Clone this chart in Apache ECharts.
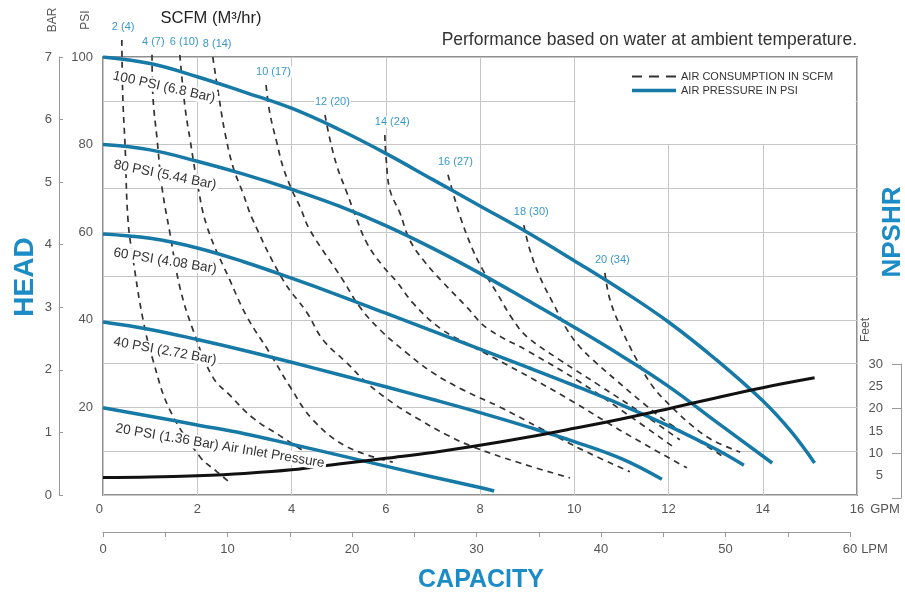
<!DOCTYPE html>
<html>
<head>
<meta charset="utf-8">
<title>Pump performance curve</title>
<script src="https://cdn.jsdelivr.net/npm/echarts@6.0.0/dist/echarts.min.js"></script>
<style>
  html, body { margin: 0; padding: 0; background: #fff; }
  #chart { width: 905px; height: 596px; }
</style>
</head>
<body>
<div id="chart"></div>
<script>
// air pressure curves, points are [GPM, PSI]
var psi100 = [[0, 100], [1, 98.5], [2, 95.5], [3, 92], [4, 88.3], [5, 83.5], [6, 78], [7, 72], [8, 66], [9, 60], [10, 53.5], [11, 46.8], [12, 39.5], [13, 31], [14, 21.5], [14.6, 14.5], [15.1, 7.3]];
var psi80 = [[0, 80], [1, 78.8], [2, 76.2], [3, 73.2], [4, 69.8], [5, 66], [6, 61.5], [7, 56.3], [8, 50.6], [9, 44.5], [10, 38.3], [11, 31.8], [12, 24.8], [13, 16.8], [14.2, 7.3]];
var psi60 = [[0, 59.6], [1, 58.6], [2, 56.4], [3, 53.2], [4, 49.5], [5, 45.6], [6, 41.5], [7, 37.4], [8, 33.3], [9, 29.2], [10, 25], [11, 20.6], [12, 15.8], [13, 10.5], [13.6, 6.8]];
var psi40 = [[0, 39.5], [1, 37.8], [2, 35.5], [3, 33], [4, 30.3], [5, 27.5], [6, 24.7], [7, 21.8], [8, 18.8], [9, 15.6], [10, 12.2], [11, 8.3], [11.86, 3.6]];
var psi20 = [[0, 19.9], [1, 18], [2, 16], [3, 14], [4, 11.6], [5, 9.1], [6, 6.6], [7, 4.1], [8, 1.7], [8.3, 0.9]];

// air consumption curves (SCFM), [GPM, PSI]
var air2 = [[0.40, 103.9], [0.42, 90.9], [0.47, 79.4], [0.53, 62.8], [0.64, 53.7], [0.85, 40.0], [1.06, 30.8], [1.42, 19.4], [2.06, 8.7], [2.42, 5.3], [2.65, 3.2]];
var air4 = [[1.04, 100.5], [1.06, 90.9], [1.15, 81.0], [1.25, 70.3], [1.42, 59.8], [1.63, 47.5], [1.91, 37.7], [2.33, 26.9], [2.69, 22.8], [3.18, 17.6], [3.76, 13.5], [4.29, 9.8]];
var air6 = [[1.63, 100.5], [1.74, 88.6], [1.85, 81.0], [1.99, 71.9], [2.21, 61.2], [2.69, 49.1], [3.06, 40.6], [3.54, 32.4], [3.97, 24.7], [4.46, 17.1], [5.18, 11.0], [6.15, 7.5]];
var air8 = [[2.33, 100], [2.48, 89.5], [2.59, 82.6], [2.76, 74.9], [2.97, 68.9], [3.18, 62.8], [3.82, 49.1], [4.33, 41.6], [4.67, 35.4], [5.18, 30.1], [5.60, 25.6], [6.15, 21.0], [6.73, 17.1], [7.30, 13.7], [7.85, 11.0], [8.85, 7.3], [9.91, 3.9]];
var air10 = [[3.46, 93.6], [3.54, 87.2], [3.69, 80.4], [3.82, 74.9], [4.01, 69.6], [4.18, 65.8], [4.39, 60.5], [5.09, 49.1], [5.45, 42.9], [5.88, 37.7], [6.45, 32.4], [7.00, 27.9], [7.64, 24.0], [8.42, 20.1], [9.27, 15.3], [10.23, 10.0], [11.18, 5.3]];
var air12 = [[4.71, 86.8], [4.82, 81.0], [4.97, 74.9], [5.18, 68.9], [5.39, 62.8], [5.60, 57.5], [5.92, 52.5], [6.24, 48.6], [6.58, 43.8], [7.15, 38.1], [7.79, 34.2], [8.85, 28.1], [9.91, 21.7], [10.97, 14.8], [12.39, 6.2]];
var air14 = [[5.98, 82.2], [6.01, 76.5], [6.09, 69.6], [6.30, 64.4], [6.51, 58.2], [6.83, 53.2], [7.21, 48.6], [7.72, 42.9], [8.15, 38.1], [9.06, 32.6], [10.12, 25.8], [11.18, 18.0], [12.14, 10.7]];
var air16 = [[7.32, 73.1], [7.43, 68.9], [7.58, 63.5], [7.85, 55.9], [8.06, 51.4], [8.36, 46.1], [8.70, 40.0], [9.00, 36.1], [9.70, 30.8], [10.55, 24.9], [11.40, 18.9], [12.24, 12.6]];
var air18 = [[8.93, 61.6], [9.06, 55.9], [9.27, 49.8], [9.55, 43.8], [9.85, 37.7], [10.12, 33.8], [10.40, 30.8], [10.91, 26.0], [11.46, 21.0], [12.03, 16.2], [12.67, 12.1], [13.14, 8.9]];
var air20 = [[10.65, 50.7], [10.76, 44.5], [11.01, 37.7], [11.33, 30.8], [11.67, 24.7], [12.03, 20.5], [12.46, 16.2], [12.92, 12.6], [13.52, 9.8]];

// NPSHR curve, [GPM, feet]
var npshr = [[0, 4.6], [1, 4.7], [2, 5.0], [3, 5.5], [4, 6.3], [5, 7.6], [6, 8.9], [7, 10.2], [8, 11.8], [9, 13.6], [10, 15.6], [11, 17.7], [12, 20.0], [13, 22.4], [14, 24.7], [15.1, 26.9]];

var pressureCurves = [psi100, psi80, psi60, psi40, psi20];
var airCurves = [air2, air4, air6, air8, air10, air12, air14, air16, air18, air20];
var scfmLabels = ['2 (4)', '4 (7)', '6 (10)', '8 (14)', '10 (17)', '12 (20)', '14 (24)', '16 (27)', '18 (30)', '20 (34)'];
var pressureLabels = ['100 PSI (6.8 Bar)', '80 PSI (5.44 Bar)', '60 PSI (4.08 Bar)', '40 PSI (2.72 Bar)', '20 PSI (1.36 Bar) Air Inlet Pressure'];

var FONT = '"Liberation Sans", Arial, Helvetica, sans-serif';
var BLUE = '#1679a6';
var BIG_BLUE = '#1c8cc6';
var LABEL_BLUE = '#3b98c9';
var GRAY = '#555';

var chartDom = document.getElementById('chart');
var myChart = echarts.init(chartDom);
var option;

var series = [];
airCurves.forEach(function (pts) {
  series.push({
    name: 'AIR CONSUMPTION IN SCFM',
    type: 'line',
    xAxisIndex: 0,
    yAxisIndex: 0,
    data: pts,
    smooth: 0.4,
    showSymbol: false,
    symbol: 'none',
    clip: false,
    silent: true,
    z: 2,
    itemStyle: { color: '#333' },
    lineStyle: { color: '#333', width: 1.7, type: [6, 5] }
  });
});
pressureCurves.forEach(function (pts, i) {
  var s = {
    name: 'AIR PRESSURE IN PSI',
    type: 'line',
    xAxisIndex: 0,
    yAxisIndex: 0,
    data: pts,
    smooth: 0.4,
    showSymbol: false,
    symbol: 'none',
    silent: true,
    z: 3,
    itemStyle: { color: BLUE },
    lineStyle: { color: BLUE, width: 3.5 }
  };
  if (i === 0) {
    // blank box behind the legend
    s.markArea = {
      silent: true,
      itemStyle: { color: '#fff' },
      data: [[{ coord: [10.03, 80.15] }, { coord: [15.97, 99.8] }]]
    };
  }
  series.push(s);
});
series.push({
  name: 'NPSHR',
  type: 'line',
  xAxisIndex: 1,
  yAxisIndex: 2,
  data: npshr,
  smooth: 0.4,
  showSymbol: false,
  symbol: 'none',
  silent: true,
  z: 4,
  itemStyle: { color: '#111' },
  lineStyle: { color: '#111', width: 3 }
});

option = {
  animation: false,
  backgroundColor: '#fff',
  textStyle: { fontFamily: FONT },
  grid: [
    { left: 103, right: 48, top: 57, bottom: 101, show: true, borderColor: '#8f8f8f', borderWidth: 2, backgroundColor: 'transparent' },
    { left: 103, right: 48, top: 364, bottom: 98 },
    { left: 103, width: 747, top: 531, height: 1 },
    { left: 103, right: 48, top: 364, bottom: 98 }
  ],
  legend: {
    left: 627,
    top: 66,
    orient: 'vertical',
    itemWidth: 44,
    itemHeight: 3.5,
    itemGap: 3,
    selectedMode: false,
    textStyle: { fontSize: 11, color: '#333', fontFamily: FONT },
    data: [
      { name: 'AIR CONSUMPTION IN SCFM', icon: 'path://M0,0H10V2H0Z M17,0H27V2H17Z M34,0H44V2H34Z', itemStyle: { color: '#333' } },
      { name: 'AIR PRESSURE IN PSI', icon: 'rect', itemStyle: { color: BLUE } }
    ]
  },
  xAxis: [
    {
      gridIndex: 0, type: 'value', min: 0, max: 16, interval: 2,
      axisLine: { show: false, onZero: false }, axisTick: { show: false },
      axisLabel: { color: GRAY, fontSize: 13, margin: 8, alignMinLabel: 'right' },
      splitLine: { show: true, lineStyle: { color: '#c6c6c6', width: 1 } },
      name: 'GPM', nameLocation: 'end', nameGap: 10,
      nameTextStyle: { color: GRAY, fontSize: 13, verticalAlign: 'top', padding: [8, 0, 0, 0] }
    },
    { gridIndex: 1, type: 'value', min: 0, max: 16, show: false, axisLine: { onZero: false } },
    {
      gridIndex: 2, type: 'value', min: 0, max: 60, interval: 10,
      axisLine: { show: true, onZero: false, lineStyle: { color: '#999', width: 1 } },
      axisTick: { show: true, length: 5, lineStyle: { color: '#999' } },
      minorTick: { show: true, splitNumber: 2, length: 5, lineStyle: { color: '#999' } },
      axisLabel: { color: GRAY, fontSize: 13, margin: 11 },
      splitLine: { show: false },
      name: 'LPM', nameLocation: 'end', nameGap: 4,
      nameTextStyle: { color: GRAY, fontSize: 13, verticalAlign: 'top', padding: [11, 0, 0, 0] }
    },
    { gridIndex: 3, type: 'value', min: 0, max: 16, show: false, axisLine: { onZero: false } }
  ],
  yAxis: [
    {
      gridIndex: 0, type: 'value', min: 0, max: 100, interval: 10,
      axisLine: { show: false, onZero: false }, axisTick: { show: false },
      axisLabel: {
        color: GRAY, fontSize: 13, margin: 10,
        formatter: function (v) { return (v > 0 && v % 20 === 0) ? String(v) : ''; }
      },
      splitLine: { show: true, lineStyle: { color: '#c6c6c6', width: 1 } }
    },
    {
      gridIndex: 0, type: 'value', position: 'left', offset: 44, min: 0, max: 7, interval: 1,
      axisLine: { show: true, onZero: false, lineStyle: { color: '#999', width: 1 } },
      axisTick: { show: true, inside: true, length: 4, lineStyle: { color: '#999' } },
      axisLabel: { color: GRAY, fontSize: 13, margin: 7 },
      splitLine: { show: false }
    },
    {
      // feet, labels every 5
      gridIndex: 1, type: 'value', position: 'right', offset: 44, min: 0, max: 30, interval: 5,
      axisLine: { show: false, onZero: false }, axisTick: { show: false },
      axisLabel: {
        inside: true, color: GRAY, fontSize: 13, margin: 18,
        formatter: function (v) { return v > 0 ? String(v) : ''; }
      },
      splitLine: { show: false }
    },
    { gridIndex: 2, type: 'value', show: false, axisLine: { onZero: false } },
    {
      // feet bracket, ticks every 10
      gridIndex: 3, type: 'value', position: 'right', offset: 44, min: 0, max: 30, interval: 10,
      axisLine: { show: true, onZero: false, lineStyle: { color: '#999', width: 1 } },
      axisTick: { show: true, inside: true, length: 9, lineStyle: { color: '#999' } },
      axisLabel: { show: false },
      splitLine: { show: false }
    }
  ],
  series: series
};

option && myChart.setOption(option);

function txt(x, y, text, size, color, extra) {
  var el = {
    type: 'text', x: x, y: y, z: 100,
    style: {
      text: text, fontSize: size, fontFamily: FONT, fill: color,
      align: 'center', verticalAlign: 'middle'
    }
  };
  if (extra) {
    for (var k in extra.style || {}) el.style[k] = extra.style[k];
    if (extra.rotation !== undefined) el.rotation = extra.rotation;
  }
  return el;
}

var up = Math.PI / 2;
var graphics = [
  txt(857, 40, 'Performance based on water at ambient temperature.', 17.5, '#333', { style: { align: 'right' } }),
  txt(211, 18, 'SCFM (M\u00b3/hr)', 16.5, '#222'),
  txt(53, 20, 'BAR', 12, GRAY, { rotation: up }),
  txt(86, 20, 'PSI', 12, GRAY, { rotation: up }),
  txt(25, 277, 'HEAD', 28, BIG_BLUE, { rotation: up, style: { fontWeight: 'bold' } }),
  txt(893, 232, 'NPSHR', 26, BIG_BLUE, { rotation: up, style: { fontWeight: 'bold' } }),
  txt(481, 580, 'CAPACITY', 25, BIG_BLUE, { style: { fontWeight: 'bold' } }),
  txt(866, 330, 'Feet', 12, GRAY, { rotation: up })
];

// pressure curve names, written along each curve
var pressureLabelPos = [[164, 87, -0.22], [165, 175, -0.2], [165, 261, -0.16], [165, 351, -0.18], [220, 446, -0.167]];
pressureLabels.forEach(function (t, i) {
  var p = pressureLabelPos[i];
  graphics.push(txt(p[0], p[1], t, 13.5, '#333', {
    rotation: p[2],
    style: { backgroundColor: '#fff', padding: [0, 2] }
  }));
});

// SCFM labels sit just above the top of each dashed curve
airCurves.forEach(function (pts, i) {
  var px = myChart.convertToPixel({ gridIndex: 0 }, pts[0]);
  graphics.push(txt(px[0] - 11, px[1] - 13, scfmLabels[i], 11, LABEL_BLUE, {
    style: { align: 'left', backgroundColor: '#fff', padding: [0, 1] }
  }));
});

myChart.setOption({ graphic: graphics });
</script>
</body>
</html>
